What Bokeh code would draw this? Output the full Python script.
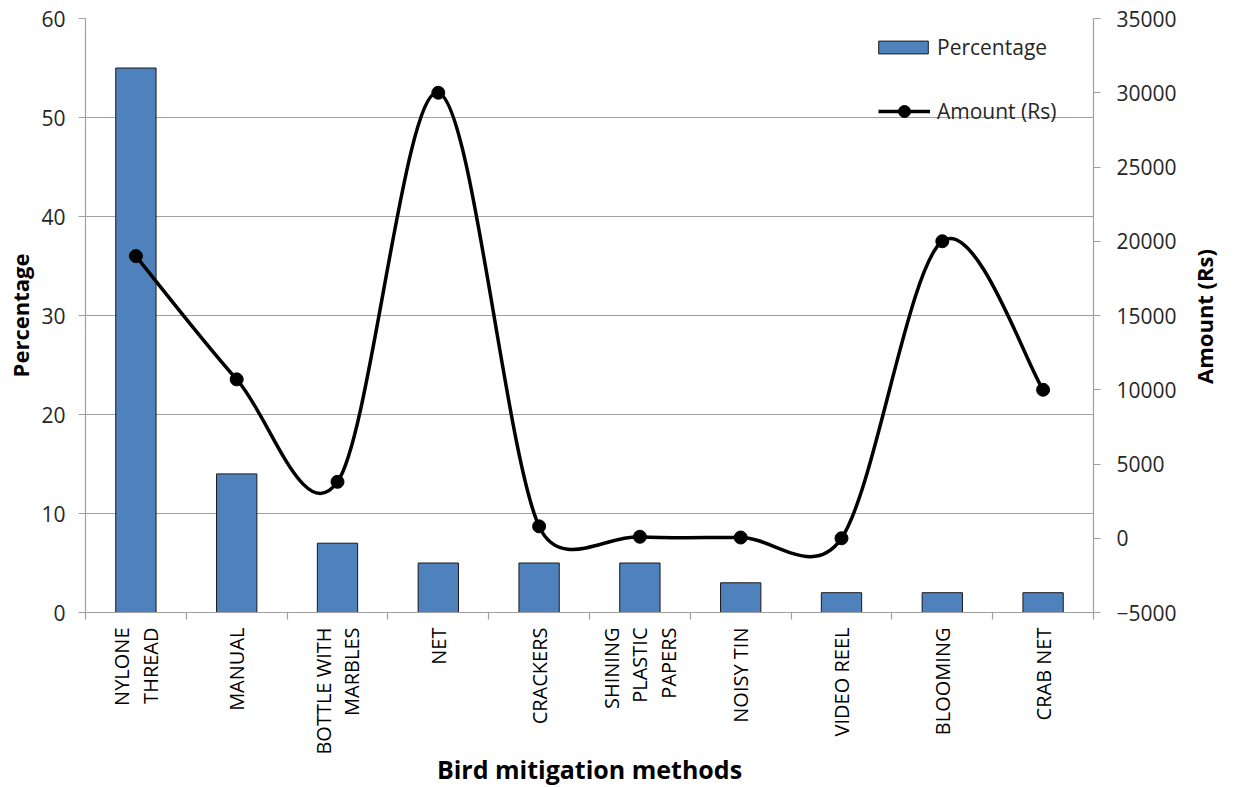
import math
import numpy as np
from bokeh.plotting import figure
from bokeh.layouts import row
from bokeh.models import Range1d, LinearAxis, FixedTicker, Legend, LegendItem
from bokeh.core.properties import value
from bokeh.embed import file_html
from bokeh.resources import INLINE

# ---------------- data ----------------
categories = ["NYLONE\nTHREAD", "MANUAL", "BOTTLE WITH\nMARBLES", "NET", "CRACKERS",
              "SHINING\nPLASTIC\nPAPERS", "NOISY TIN", "VIDEO REEL", "BLOOMING", "CRAB NET"]
percentage = [55, 14, 7, 5, 5, 5, 3, 2, 2, 2]
amount = [19000, 10700, 3800, 30000, 800, 100, 50, 0, 20000, 10000]
pct_ticks = [0, 10, 20, 30, 40, 50, 60]
amt_ticks = [-5000, 0, 5000, 10000, 15000, 20000, 25000, 30000, 35000]
right_title = "Amount (Rs)"

# ---------------- layout constants ----------------
FW, FH = 1008, 594
FONT = "Open Sans"
GRAY = "#A0A0A0"
TXT = "#262626"

n = len(categories)
xs = list(range(1, n + 1))
x_lo, x_hi = 0.5, n + 0.5
a_lo, a_hi = amt_ticks[0], amt_ticks[-1]

p = figure(frame_width=FW, frame_height=FH, output_backend="svg", toolbar_location=None,
           x_range=Range1d(x_lo, x_hi), y_range=Range1d(pct_ticks[0], pct_ticks[-1]),
           min_border_left=85, min_border_right=88, min_border_top=18, min_border_bottom=160)
p.extra_y_ranges = {"amt": Range1d(a_lo, a_hi)}
p.outline_line_color = None
p.background_fill_color = "white"
p.border_fill_color = "white"

# grid
p.xgrid.visible = False
p.ygrid.ticker = FixedTicker(ticks=pct_ticks)
p.ygrid.grid_line_color = GRAY
p.ygrid.grid_line_width = 1.2

# bars
bars = p.vbar(x=xs, top=percentage, bottom=0, width=0.4, fill_color="#4F81BD",
              line_color="#1A1A1A", line_width=1)

# smoothed line (Excel-like bezier through the data points, computed in pixel space)
sx = FW / (x_hi - x_lo)
sy = FH / (a_hi - a_lo)
pts = [(x * sx, a * sy) for x, a in zip(xs, amount)]
bx0, by0, bx1, by1, bcx0, bcy0, bcx1, bcy1 = ([] for _ in range(8))
def dist(a, b):
    return math.hypot(a[0] - b[0], a[1] - b[1])
for i in range(n - 1):
    P0 = pts[max(i - 1, 0)]
    P1 = pts[i]
    P2 = pts[i + 1]
    P3 = pts[min(i + 2, n - 1)]
    d12 = dist(P1, P2)
    d02 = dist(P0, P2)
    d13 = dist(P1, P3)
    f0 = min(1 / 6, d12 / (2 * d02)) if d02 > 0 else 1 / 6
    f1 = min(1 / 6, d12 / (2 * d13)) if d13 > 0 else 1 / 6
    c1 = (P1[0] + f0 * (P2[0] - P0[0]), P1[1] + f0 * (P2[1] - P0[1]))
    c2 = (P2[0] - f1 * (P3[0] - P1[0]), P2[1] - f1 * (P3[1] - P1[1]))
    bx0.append(xs[i]); by0.append(amount[i])
    bx1.append(xs[i + 1]); by1.append(amount[i + 1])
    bcx0.append(c1[0] / sx); bcy0.append(c1[1] / sy)
    bcx1.append(c2[0] / sx); bcy1.append(c2[1] / sy)

bez = p.bezier(x0=bx0, y0=by0, x1=bx1, y1=by1, cx0=bcx0, cy0=bcy0, cx1=bcx1, cy1=bcy1,
               line_color="black", line_width=3.5, y_range_name="amt")
pts_r = p.scatter(x=xs, y=amount, size=13, marker="circle", fill_color="black",
                  line_color="black", y_range_name="amt")

# axes
yax = p.yaxis[0]
yax.ticker = FixedTicker(ticks=pct_ticks)
yax.axis_label = "Percentage"
right = LinearAxis(y_range_name="amt", ticker=FixedTicker(ticks=amt_ticks))
p.add_layout(right, "right")
xax = p.xaxis[0]
xax.ticker = FixedTicker(ticks=xs, minor_ticks=[x - 0.5 for x in xs] + [xs[-1] + 0.5])
xax.major_label_overrides = {x: c for x, c in zip(xs, categories)}
xax.axis_label = "Bird mitigation methods"

for ax in (yax, right, xax):
    ax.axis_line_color = GRAY
    ax.axis_line_width = 1.2
    ax.major_tick_line_color = GRAY
    ax.major_tick_line_width = 1.2
    ax.major_tick_in = 0
    ax.major_tick_out = 7
    ax.minor_tick_line_color = None
    ax.major_label_text_font = FONT
    ax.major_label_text_font_size = "21px"
    ax.major_label_text_color = TXT
    ax.axis_label_text_font = FONT
    ax.axis_label_text_font_style = "bold"
    ax.axis_label_text_color = "black"

yax.major_label_standoff = 13
yax.axis_label_text_font_size = "22px"
yax.axis_label_standoff = 3
right.major_label_standoff = 16

xax.major_tick_out = 0
xax.minor_tick_line_color = GRAY
xax.minor_tick_line_width = 1.2
xax.minor_tick_in = 0
xax.minor_tick_out = 7
xax.major_label_orientation = math.pi / 2
xax.major_label_text_font_size = "20px"
xax.major_label_text_line_height = 1.05
xax.major_label_text_color = "black"
xax.major_label_standoff = 8
xax.axis_label_text_font_size = "25px"
xax.axis_label_standoff = -6

# legends
leg1 = Legend(items=[LegendItem(label="Percentage", renderers=[bars])],
              location=(787, 551), glyph_width=62, glyph_height=16, label_height=20,
              label_standoff=3, padding=0, margin=0, spacing=0)
leg2 = Legend(items=[LegendItem(label="Amount (Rs)", renderers=[bez, pts_r])],
              location=(793, 486), glyph_width=52, glyph_height=30, label_height=20,
              label_standoff=7, padding=0, margin=0, spacing=0)
for lg in (leg1, leg2):
    lg.background_fill_alpha = 0
    lg.border_line_color = None
    lg.label_text_font = FONT
    lg.label_text_font_size = "21px"
    lg.label_text_color = TXT
    p.add_layout(lg, "center")

# narrow companion panel carrying the right-axis title, reading bottom to top
TW, TH = 43, 640
t = figure(frame_width=TW, frame_height=TH, output_backend="svg", toolbar_location=None,
           x_range=Range1d(0, TW), y_range=Range1d(0, TH),
           x_axis_location=None, y_axis_location=None,
           min_border=0, min_border_left=0, min_border_right=0,
           min_border_top=0, min_border_bottom=0)
t.grid.visible = False
t.outline_line_color = None
t.background_fill_color = "white"
t.border_fill_color = "white"
t.text(x=[22], y=[TH - 298], text=[right_title], angle=math.pi / 2,
       text_align="center", text_baseline="middle", text_font=value(FONT),
       text_font_size="22px", text_font_style="bold", text_color="black")

layout = row(p, t, spacing=0)
open("out.html", "w").write(file_html(layout, INLINE))
